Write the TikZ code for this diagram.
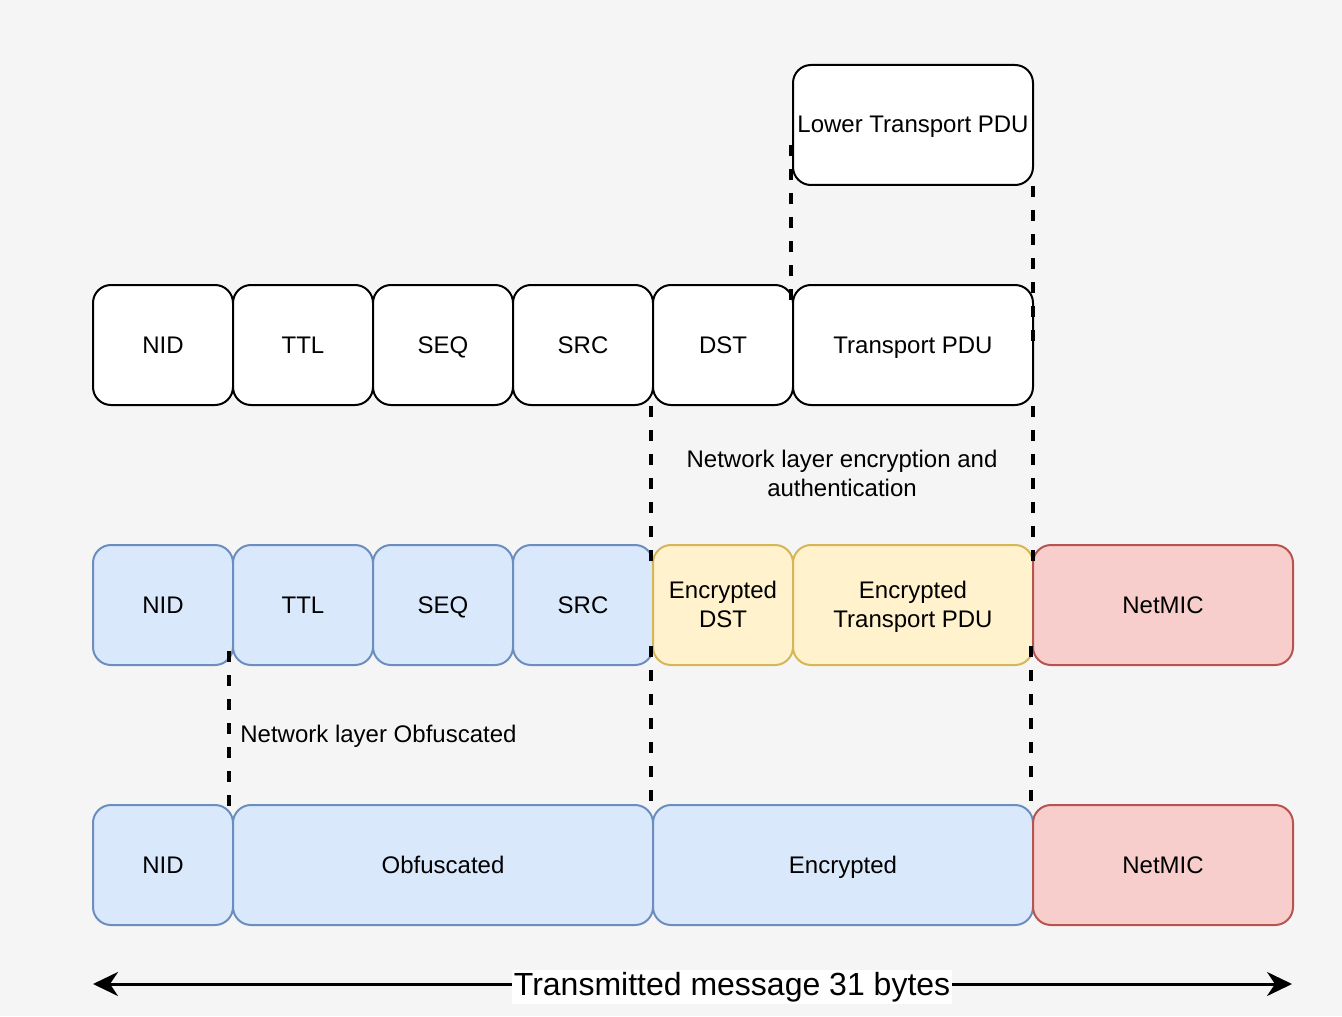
\documentclass[tikz,border=0pt]{standalone}
\usepackage{fontspec}
\setmainfont{Liberation Sans}
\usetikzlibrary{arrows.meta,calc}
\definecolor{pagebg}{HTML}{F5F5F5}
\definecolor{bluefill}{HTML}{DAE8FC}
\definecolor{blueline}{HTML}{6C8EBF}
\definecolor{yellowfill}{HTML}{FFF2CC}
\definecolor{yellowline}{HTML}{D6B656}
\definecolor{redfill}{HTML}{F8CECC}
\definecolor{redline}{HTML}{B85450}
\tikzset{
  cell/.style={draw=black, fill=white, line width=1pt, rounded corners=9pt,
    minimum width=70pt, minimum height=60pt, inner sep=0pt, align=center,
    text height=8.8pt, text depth=0.8pt,
    font=\fontsize{12}{14.5}\selectfont},
  twoline/.style={text height=23.3pt, text depth=0.8pt},
  bluecell/.style={cell, draw=blueline, fill=bluefill},
  yellowcell/.style={cell, draw=yellowline, fill=yellowfill},
  redcell/.style={cell, draw=redline, fill=redfill, minimum width=130pt},
  dashline/.style={line width=1.9pt, dash pattern=on 5.5pt off 6.5pt},
  msgarrow/.style={line width=1.5pt, {Stealth[length=12.5pt,width=12pt,inset=4pt]}-{Stealth[length=12.5pt,width=12pt,inset=4pt]}}
}
\begin{document}
\begin{tikzpicture}
[x=0.5pt, y=-0.5pt]
\fill[pagebg] (0,0) rectangle (1342,1016);
% lower transport
\node [cell, minimum width=120pt] (lt) at (913,125) {Lower Transport PDU};
% network PDU, clear
\node [cell] (nid1) at (163,345) {NID};
\node [cell] (ttl1) at (303,345) {TTL};
\node [cell] (seq1) at (443,345) {SEQ};
\node [cell] (src1) at (583,345) {SRC};
\node [cell] (dst1) at (723,345) {DST};
\node [cell, minimum width=120pt] (tp1) at (913,345) {Transport PDU};
% network PDU, encrypted
\node [bluecell] (nid2) at (163,605) {NID};
\node [bluecell] (ttl2) at (303,605) {TTL};
\node [bluecell] (seq2) at (443,605) {SEQ};
\node [bluecell] (src2) at (583,605) {SRC};
\node [yellowcell, twoline] (edst) at (723,605) {Encrypted\\DST};
\node [yellowcell, twoline, minimum width=120pt] (etp) at (913,605) {Encrypted\\Transport PDU};
\node [redcell] (mic2) at (1163,605) {NetMIC};
% network PDU, obfuscated
\node [bluecell] (nid3) at (163,865) {NID};
\node [bluecell, minimum width=210pt] (obf) at (443,865) {Obfuscated};
\node [bluecell, minimum width=190pt] (enc) at (843,865) {Encrypted};
\node [redcell] (mic3) at (1163,865) {NetMIC};
% dashed guides
\draw [dashline] ($(lt.west)+(-1,20)$) -- ($(tp1.north west)+(-1,28)$);
\draw [dashline] ($(lt.south east)+(-1,0)$) -- ($(tp1.east)+(-1,7)$);
\draw [dashline] ($(dst1.south west)+(-1,0)$) -- ($(edst.north west)+(-1,27)$);
\draw [dashline] ($(tp1.south east)+(-1,0)$) -- ($(etp.north east)+(-1,27)$);
\draw [dashline] ($(ttl2.south west)+(-3,-15)$) -- ($(obf.north west)+(-3,13)$);
\draw [dashline] ($(edst.south west)+(-1,-20)$) -- ($(enc.north west)+(-1,8)$);
\draw [dashline] ($(etp.south east)+(-3,-20)$) -- ($(enc.north east)+(-3,8)$);
\node [align=center, inner sep=0pt, font=\fontsize{12}{14.5}\selectfont] (enclabel) at (842,473) {Network layer encryption and\\authentication};
\node [anchor=west, inner sep=0pt, font=\fontsize{12}{14.5}\selectfont] (obflabel) at (240,736) {Network layer Obfuscated};
% message length
\coordinate (ml) at (93,984);
\coordinate (mr) at (1292,984);
\draw [msgarrow] (ml) -- (mr) node [pos=0.533, yshift=-1.5pt, fill=white, inner sep=1pt, font=\fontsize{16}{19}\selectfont] (msglabel) {Transmitted message 31 bytes};
\end{tikzpicture}
\end{document}
